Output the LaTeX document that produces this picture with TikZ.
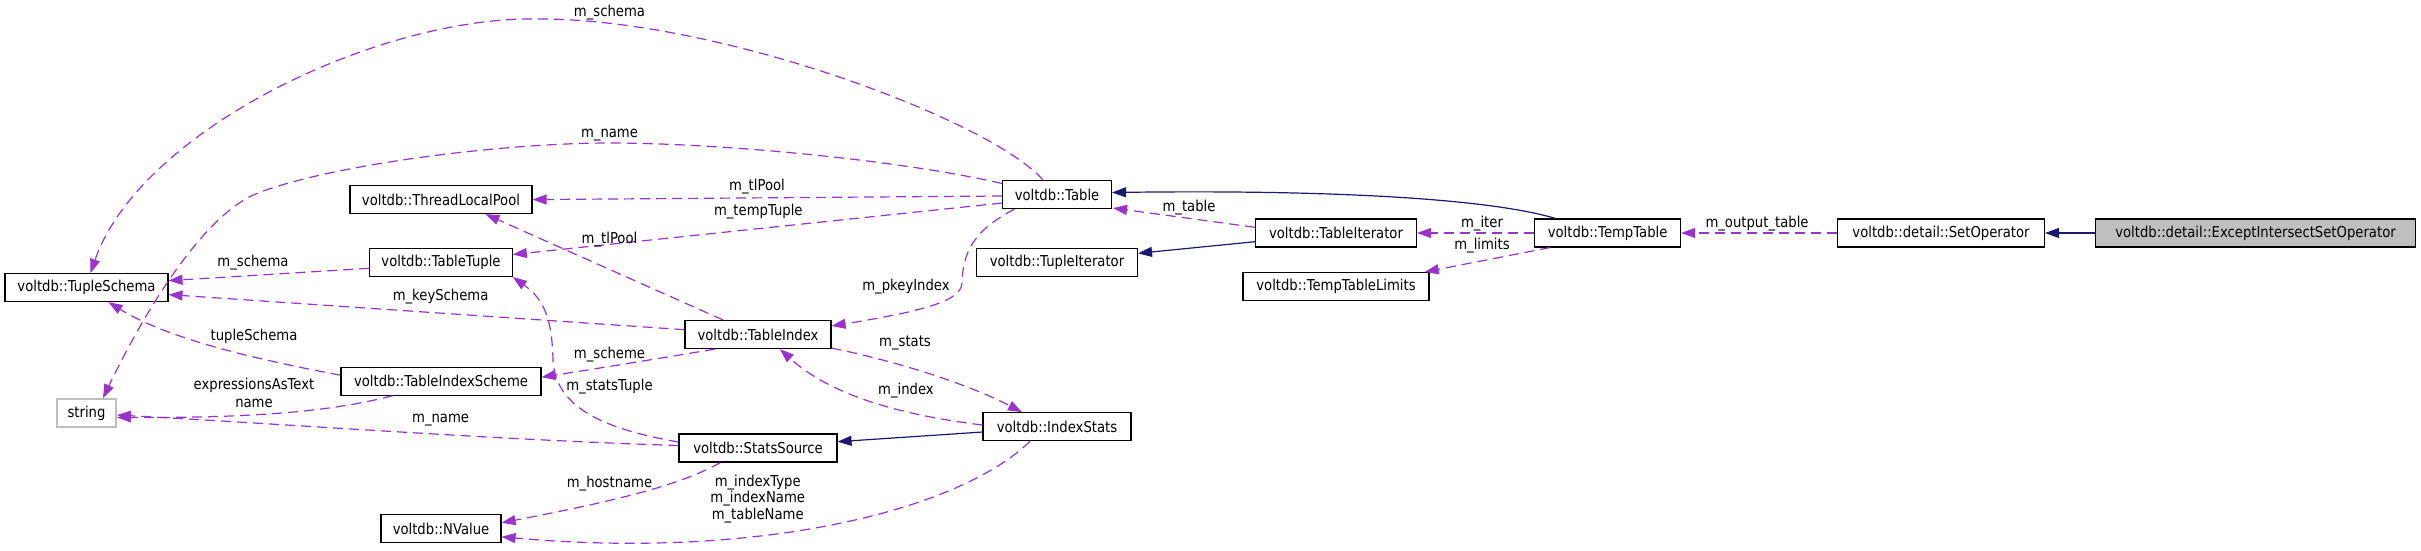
\documentclass[tikz,border=0pt]{standalone}
\usepackage{fontspec}
\setmainfont{DejaVu Sans}[FakeStretch=0.88]
\usetikzlibrary{calc,arrows.meta}
\definecolor{usecol}{RGB}{154,50,205}
\definecolor{inhcol}{RGB}{25,25,112}
\definecolor{greyb}{RGB}{191,191,191}
\tikzset{
  cls/.style={draw=black, line width=1.1pt, minimum height=28pt, inner sep=0pt, fill=white, font=\fontsize{15}{17}\selectfont},
  uses/.style={draw=usecol, line width=1.2pt, dash pattern=on 10pt off 6pt, -{Triangle[length=14pt,width=10pt]}},
  inherit/.style={draw=inhcol, line width=1.2pt, -{Triangle[length=14pt,width=10pt]}},
  lbl/.style={inner sep=0pt, font=\fontsize{15}{17}\selectfont, text=black},
}
\begin{document}
\begin{tikzpicture}[x=1pt,y=-1pt]
\useasboundingbox (0,0) rectangle (2421,550);
% nodes
\node[cls, minimum width=163] (TS) at (86.5,287.6) {voltdb::TupleSchema};
\node[cls, minimum width=59.4, draw=greyb, line width=1.6pt] (STR) at (86.5,413) {string};
\node[cls, minimum width=182] (TLP) at (441,199.6) {voltdb::ThreadLocalPool};
\node[cls, minimum width=142.6] (TT) at (441,262.5) {voltdb::TableTuple};
\node[cls, minimum width=200] (TIS) at (441,381.2) {voltdb::TableIndexScheme};
\node[cls, minimum width=120] (NV) at (441,528.8) {voltdb::NValue};
\node[cls, minimum width=146] (TI) at (758,334.5) {voltdb::TableIndex};
\node[cls, minimum width=158] (SS) at (758,448) {voltdb::StatsSource};
\node[cls, minimum width=109] (TB) at (1057,194.5) {voltdb::Table};
\node[cls, minimum width=161] (TUI) at (1057,262.8) {voltdb::TupleIterator};
\node[cls, minimum width=148] (IS) at (1057,426.7) {voltdb::IndexStats};
\node[cls, minimum width=161] (TIT) at (1336,233) {voltdb::TableIterator};
\node[cls, minimum width=186] (TTL) at (1336,286.5) {voltdb::TempTableLimits};
\node[cls, minimum width=146] (TMP) at (1607.6,233) {voltdb::TempTable};
\node[cls, minimum width=207] (SO) at (1941,233) {voltdb::detail::SetOperator};
\node[cls, minimum width=320, fill=greyb] (EISO) at (2255.5,233) {voltdb::detail::ExceptIntersectSetOperator};
% usage edges
\draw[uses] ($(TB.north)+(-14,0)$) .. controls (990,120) and (720,19) .. (540,19)
   .. controls (380,15) and (140,130) .. ($(TS.north)+(4,0)$);
\node[lbl] (l1) at (609.5,12.3) {m\_schema};
\draw[uses] ($(TB.west)+(0,-11)$) .. controls (900,160) and (720,143) .. (610,143)
   .. controls (500,143) and (330,165) .. (258,193)
   .. controls (208,212) and (150,300) .. ($(STR.north)+(16.5,0)$);
\node[lbl] (l2) at (609.5,135) {m\_name};
\draw[uses] ($(TB.west)+(0,1.5)$) -- (TLP.east);
\node[lbl] (l3) at (757,186.7) {m\_tlPool};
\draw[uses] ($(TB.west)+(0,8.5)$) -- ($(TT.east)+(0,-8)$);
\node[lbl] (l4) at (758.3,211.7) {m\_tempTuple};
\draw[uses] ($(TB.south west)+(12.5,0)$) .. controls (975,230) and (963,250) .. (962,283)
   .. controls (961,300) and (930,310) .. ($(TI.east)+(0,-8.5)$);
\node[lbl] (l5) at (906,286.7) {m\_pkeyIndex};
\draw[uses] ($(TT.west)+(0,5.8)$) -- ($(TS.east)+(0,-7)$);
\node[lbl] (l6) at (253,262.4) {m\_schema};
\draw[uses] ($(TI.west)+(0,-4.8)$) -- ($(TS.east)+(0,7)$);
\node[lbl] (l7) at (440.6,296.4) {m\_keySchema};
\draw[uses] ($(TI.north)+(-35,0)$) -- ($(TLP.south)+(44.5,0)$);
\node[lbl] (l8) at (609.5,239.6) {m\_tlPool};
\draw[uses] ($(TI.south)+(-43,0)$) .. controls (650,360) and (600,368) .. ($(TIS.east)+(0,-4)$);
\node[lbl] (l9) at (609.5,354.3) {m\_scheme};
\draw[uses] ($(TI.south east)+(0,-1)$) .. controls (900,362) and (970,385) .. ($(IS.north)+(-35,0)$);
\node[lbl] (l10) at (905,343.3) {m\_stats};
\draw[uses] ($(IS.west)+(0,-1.7)$) .. controls (900,415) and (830,395) .. ($(TI.south)+(22,0)$);
\node[lbl] (l11) at (906,390.7) {m\_index};
\draw[uses] ($(TIS.west)+(0,-6)$) .. controls (260,360) and (170,340) .. ($(TS.south)+(22,0)$);
\node[lbl] (l12) at (254,336) {tupleSchema};
\draw[uses] ($(TIS.south)+(-48.5,0)$) .. controls (330,412) and (250,418) .. ($(STR.east)+(0,4.4)$);
\node[lbl, align=center, font=\fontsize{15}{18.3}\selectfont] (l13) at (254,393) {expressionsAsText\\name};
\draw[uses] ($(SS.west)+(0,-2.5)$) .. controls (500,440) and (300,425) .. ($(STR.east)+(0,2)$);
\node[lbl] (l14) at (440.6,419.8) {m\_name};
\draw[uses] ($(SS.west)+(0,-6)$) .. controls (610,430) and (555,410) .. (553,360)
   .. controls (552,320) and (545,300) .. (TT.south east);
\node[lbl] (l15) at (609.5,386.9) {m\_statsTuple};
\draw[uses] ($(SS.south)+(-37.5,0)$) .. controls (680,485) and (620,500) .. ($(NV.east)+(0,-6)$);
\node[lbl] (l16) at (609.5,483.3) {m\_hostname};
\draw[uses] ($(IS.south)+(-27,0)$) .. controls (960,510) and (760,560) .. ($(NV.east)+(0,8)$);
\node[lbl, align=center, font=\fontsize{15}{16.7}\selectfont] (l17) at (757.7,499) {m\_indexType\\m\_indexName\\m\_tableName};
\draw[uses] ($(TIT.west)+(0,-5.7)$) -- ($(TB.south east)+(1,-1)$);
\node[lbl] (l18) at (1189,207.3) {m\_table};
\draw[uses] (TMP.west) -- (TIT.east);
\node[lbl] (l19) at (1482,223.3) {m\_iter};
\draw[uses] ($(TMP.south west)+(16,0)$) -- ($(TTL.north east)+(-4.8,0)$);
\node[lbl] (l20) at (1482,246) {m\_limits};
\draw[uses] (SO.west) -- (TMP.east);
\node[lbl] (l21) at (1757,223.3) {m\_output\_table};
% inheritance edges
\draw[inherit] ($(TMP.north)+(-52,0)$) .. controls (1480,196) and (1300,190) .. ($(TB.east)+(0,-2)$);
\draw[inherit] ($(TIT.west)+(0,8.7)$) -- ($(TUI.east)+(0,-9.5)$);
\draw[inherit] ($(IS.west)+(0,5.3)$) -- ($(SS.east)+(0,-6.3)$);
\draw[inherit] (EISO.west) -- (SO.east);
\end{tikzpicture}
\end{document}
